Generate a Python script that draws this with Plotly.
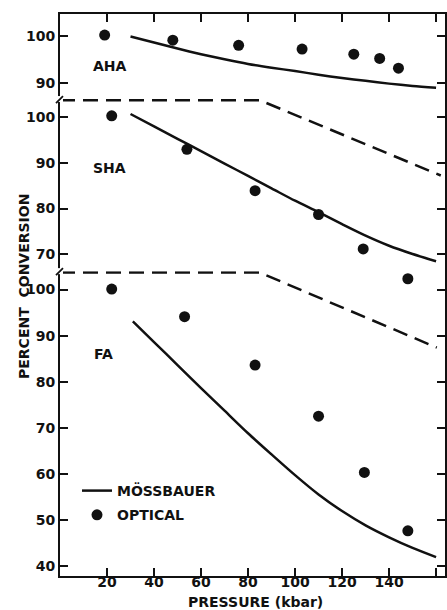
import plotly.graph_objects as go
from plotly.subplots import make_subplots

# ---- data ----
pressure_ticks = [20, 40, 60, 80, 100, 120, 140, 160]
pressure_ticktext = ["20", "40", "60", "80", "100", "120", "140", ""]

# AHA
aha_opt_x = [19, 48, 76, 103, 125, 136, 144]
aha_opt_y = [100.2, 99.1, 98.0, 97.2, 96.1, 95.2, 93.1]
aha_mos_x = [30, 40, 50, 60, 70, 80, 90, 100, 110, 120, 130, 140, 150, 160]
aha_mos_y = [99.9, 98.6, 97.3, 96.1, 95.0, 94.0, 93.2, 92.5, 91.7, 91.0, 90.4, 89.8, 89.3, 88.9]

# SHA
sha_opt_x = [22, 54, 83, 110, 129, 148]
sha_opt_y = [100.2, 92.9, 83.9, 78.7, 71.2, 64.7]
sha_mos_x = [30, 40, 50, 60, 70, 80, 90, 100, 110, 120, 130, 140, 150, 160]
sha_mos_y = [100.6, 97.9, 95.2, 92.5, 89.8, 87.1, 84.4, 81.7, 79.2, 76.6, 74.1, 71.9, 70.1, 68.5]
sha_dash_x = [0, 85, 162]
sha_dash_y = [103.6, 103.6, 87.2]

# FA
fa_opt_x = [22, 53, 83, 110, 129.5, 148]
fa_opt_y = [100.1, 94.1, 83.6, 72.5, 60.3, 47.6]
fa_mos_x = [31, 40, 50, 60, 70, 80, 90, 100, 110, 120, 130, 140, 150, 160]
fa_mos_y = [93.1, 88.6, 83.6, 78.6, 73.7, 68.8, 64.2, 59.7, 55.5, 51.9, 48.8, 46.2, 43.9, 41.9]
fa_dash_x = [0, 85, 160.3]
fa_dash_y = [103.7, 103.7, 87.4]

aha_ticks = [90, 100]
sha_ticks = [70, 80, 90, 100]
fa_ticks = [40, 50, 60, 70, 80, 90, 100]

aha_range = [86.5, 104.7]
sha_range = [66.36, 103.86]
fa_range = [37.8, 104.0]
x_range = [0, 163.8]

FONT = "DejaVu Sans"
BLACK = "#111111"

row_h = [85.0, 172.0, 304.7]
fig = make_subplots(rows=3, cols=1, shared_xaxes=True, vertical_spacing=0,
                    row_heights=row_h)

line_style = dict(color=BLACK, width=2.5, shape="spline", smoothing=0.8)
dash_style = dict(color=BLACK, width=2.5, dash="15px,8px")
mk = dict(color=BLACK, size=11)

# split SHA optical points: those inside the SHA panel range, and those that
# spill below it (drawn with the SHA scale continued into the FA panel area)
sha_in = [(x, y) for x, y in zip(sha_opt_x, sha_opt_y) if y >= sha_range[0]]
sha_out = [(x, y) for x, y in zip(sha_opt_x, sha_opt_y) if y < sha_range[0]]

# AHA
fig.add_trace(go.Scatter(x=aha_mos_x, y=aha_mos_y, mode="lines", line=line_style,
                         name="MÖSSBAUER", showlegend=True, legendgroup="m"), row=1, col=1)
fig.add_trace(go.Scatter(x=aha_opt_x, y=aha_opt_y, mode="markers", marker=mk,
                         name="OPTICAL", showlegend=True, legendgroup="o",
                         cliponaxis=False), row=1, col=1)
# SHA
fig.add_trace(go.Scatter(x=sha_dash_x, y=sha_dash_y, mode="lines", line=dash_style,
                         showlegend=False), row=2, col=1)
fig.add_trace(go.Scatter(x=sha_mos_x, y=sha_mos_y, mode="lines", line=line_style,
                         showlegend=False), row=2, col=1)
fig.add_trace(go.Scatter(x=[p[0] for p in sha_in], y=[p[1] for p in sha_in],
                         mode="markers", marker=mk, showlegend=False,
                         cliponaxis=False), row=2, col=1)
# FA
fig.add_trace(go.Scatter(x=fa_dash_x, y=fa_dash_y, mode="lines", line=dash_style,
                         showlegend=False), row=3, col=1)
fig.add_trace(go.Scatter(x=fa_mos_x, y=fa_mos_y, mode="lines", line=line_style,
                         showlegend=False), row=3, col=1)
fig.add_trace(go.Scatter(x=fa_opt_x, y=fa_opt_y, mode="markers", marker=mk,
                         showlegend=False, cliponaxis=False), row=3, col=1)
# SHA spill-over point on an invisible axis continuing the SHA scale
fig.add_trace(go.Scatter(x=[p[0] for p in sha_out], y=[p[1] for p in sha_out],
                         mode="markers", marker=mk, showlegend=False,
                         cliponaxis=False, xaxis="x3", yaxis="y4"))

yax_common = dict(showline=True, linecolor=BLACK, linewidth=2, ticks="inside",
                  ticklen=8, tickwidth=1.5, tickcolor=BLACK, mirror="ticks",
                  showgrid=False, zeroline=False,
                  tickfont=dict(family=FONT, size=14, color=BLACK, weight="bold"))
fig.update_yaxes(range=aha_range, tickvals=aha_ticks, row=1, col=1, **yax_common)
fig.update_yaxes(range=sha_range, tickvals=sha_ticks, row=2, col=1, **yax_common)
fig.update_yaxes(range=fa_range, tickvals=fa_ticks, row=3, col=1, **yax_common)

sha_span = sha_range[1] - sha_range[0]
ext_top = sha_range[0]
ext_bot = sha_range[0] - sha_span * row_h[2] / row_h[1]
fig.update_layout(yaxis4=dict(overlaying="y3", anchor="x3", range=[ext_bot, ext_top],
                              visible=False, showgrid=False, zeroline=False))

fig.update_xaxes(range=x_range, showgrid=False, zeroline=False)
fig.update_xaxes(row=3, col=1, showline=True, linecolor=BLACK, linewidth=2,
                 ticks="inside", ticklen=8, tickwidth=1.5, tickcolor=BLACK,
                 tickvals=pressure_ticks, ticktext=pressure_ticktext,
                 ticklabelstandoff=-8,
                 tickfont=dict(family=FONT, size=14, color=BLACK, weight="bold"))
fig.update_xaxes(row=2, col=1, showline=False, ticks="", showticklabels=False)
fig.update_xaxes(row=1, col=1, side="top", showline=True, linecolor=BLACK, linewidth=2,
                 ticks="inside", ticklen=8, tickwidth=1.5, tickcolor=BLACK,
                 tickvals=pressure_ticks, showticklabels=False)

W, H = 447, 610
ml, mr, mt, mb = 60, 2, 14, 34
pw, ph = W - ml - mr, H - mt - mb
tot = sum(row_h)
brk1 = (row_h[2] + row_h[1]) / tot   # paper y of AHA/SHA break
brk2 = row_h[2] / tot                # paper y of SHA/FA break

def px_x(p):
    return (p - ml) / pw

def px_y(p):
    return (H - mb - p) / ph

def px_dy(p):
    return p / ph

shapes = []
for b in (brk1, brk2):
    shapes.append(dict(type="rect", xref="paper", yref="paper",
                       x0=px_x(57), x1=px_x(63), y0=b - px_dy(3), y1=b + px_dy(3),
                       fillcolor="white", line=dict(width=0), layer="above"))
    shapes.append(dict(type="line", xref="paper", yref="paper",
                       x0=px_x(56), x1=px_x(63), y0=b - px_dy(4), y1=b + px_dy(3),
                       line=dict(color=BLACK, width=1.8), layer="above"))

label_font = dict(family=FONT, size=14, color=BLACK, weight="bold")
annotations = [
    dict(text="AHA", x=21.3, y=93.6, xref="x", yref="y", showarrow=False, font=label_font),
    dict(text="SHA", x=20.9, y=88.75, xref="x2", yref="y2", showarrow=False, font=label_font),
    dict(text="FA", x=18.4, y=86.1, xref="x3", yref="y3", showarrow=False, font=label_font),
    dict(text="PERCENT  CONVERSION", textangle=-90, xref="paper", yref="paper",
         x=px_x(24), y=px_y(287), xanchor="center", yanchor="middle", showarrow=False,
         font=dict(family=FONT, size=14, color=BLACK, weight="bold")),
    dict(text="PRESSURE (kbar)", xref="paper", yref="paper",
         x=px_x(256), y=px_y(602), xanchor="center", yanchor="middle", showarrow=False,
         font=dict(family=FONT, size=14, color=BLACK, weight="bold")),
]

fig.update_layout(
    width=W, height=H,
    margin=dict(l=ml, r=mr, t=mt, b=mb, pad=0, autoexpand=False),
    paper_bgcolor="white", plot_bgcolor="rgba(0,0,0,0)",
    font=dict(family=FONT, color=BLACK),
    showlegend=True,
    legend=dict(x=px_x(77), y=px_y(475), xanchor="left", yanchor="top",
                bgcolor="rgba(0,0,0,0)", tracegroupgap=3,
                font=dict(family=FONT, size=14, color=BLACK, weight="bold")),
    shapes=shapes,
    annotations=annotations,
)

fig.write_html("out.html", config={"displayModeBar": False},
               post_script="document.body.style.margin='0';")
